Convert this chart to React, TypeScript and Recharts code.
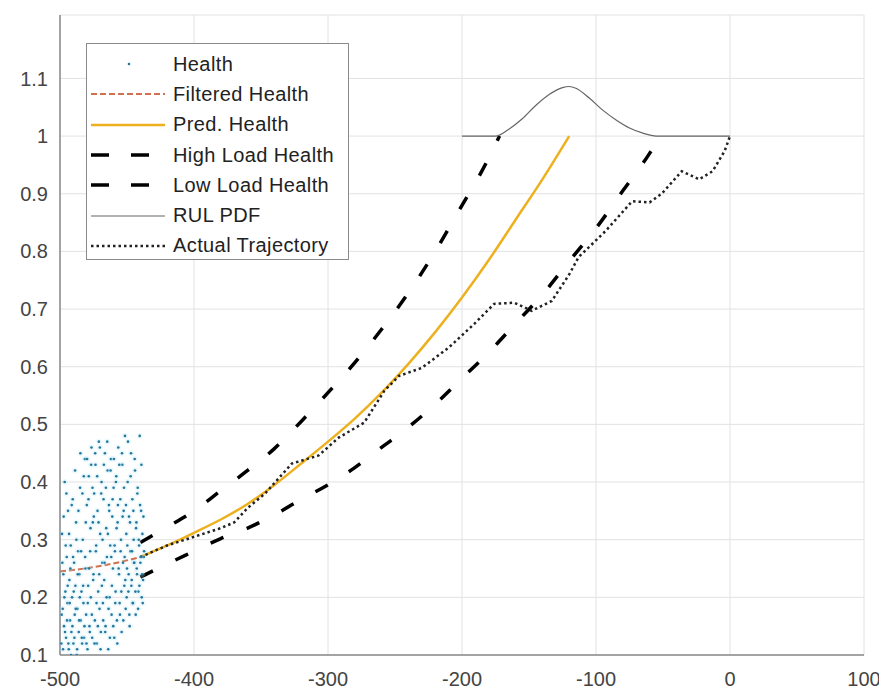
import React from 'react';
import { ComposedChart, Line, Scatter, XAxis, YAxis, CartesianGrid } from 'recharts';

const xTicks = [-500, -400, -300, -200, -100, 0, 100];
const yTicks = [0.1, 0.2, 0.3, 0.4, 0.5, 0.6, 0.7, 0.8, 0.9, 1, 1.1];

// noisy health measurements, two interleaved runs, one point every half time step
const healthStartA = -499;
const healthStartB = -498.75;
const healthStep = 0.5;
const healthYA = [
  0.12, 0.31, 0.18, 0.24, 0.15, 0.40, 0.21, 0.13, 0.27, 0.19, 0.35, 0.11, 0.23, 0.16, 0.29, 0.14,
  0.20, 0.37, 0.12, 0.26, 0.17, 0.22, 0.33, 0.10, 0.18, 0.28, 0.14, 0.24, 0.39, 0.16, 0.21, 0.12,
  0.30, 0.19, 0.13, 0.44, 0.25, 0.17, 0.36, 0.11, 0.22, 0.41, 0.15, 0.28, 0.20, 0.46, 0.13, 0.33,
  0.24, 0.38, 0.16, 0.43, 0.29, 0.12, 0.35, 0.21, 0.47, 0.18, 0.31, 0.14, 0.40, 0.26, 0.19, 0.37,
  0.23, 0.45, 0.15, 0.32, 0.27, 0.42, 0.11, 0.36, 0.20, 0.29, 0.44, 0.17, 0.34, 0.25, 0.39, 0.13,
  0.28, 0.21, 0.41, 0.16, 0.33, 0.46, 0.24, 0.19, 0.37, 0.30, 0.14, 0.43, 0.26, 0.35, 0.22, 0.48,
  0.18, 0.31, 0.25, 0.40, 0.21, 0.34, 0.15, 0.28, 0.45, 0.23, 0.37, 0.19, 0.30, 0.26, 0.42, 0.17,
  0.33, 0.24, 0.39, 0.21, 0.29, 0.48, 0.26, 0.35, 0.20, 0.31, 0.23, 0.27,
];
const healthYB = [
  0.17, 0.26, 0.11, 0.34, 0.20, 0.14, 0.29, 0.38, 0.16, 0.22, 0.12, 0.31, 0.19, 0.25, 0.10, 0.36,
  0.15, 0.27, 0.21, 0.13, 0.42, 0.18, 0.30, 0.11, 0.24, 0.35, 0.16, 0.20, 0.45, 0.28, 0.13, 0.38,
  0.22, 0.41, 0.15, 0.27, 0.33, 0.12, 0.44, 0.19, 0.37, 0.25, 0.14, 0.32, 0.43, 0.17, 0.39, 0.23,
  0.34, 0.12, 0.45, 0.28, 0.19, 0.41, 0.15, 0.33, 0.24, 0.46, 0.11, 0.38, 0.22, 0.30, 0.16, 0.43,
  0.26, 0.14, 0.39, 0.20, 0.47, 0.31, 0.18, 0.35, 0.13, 0.42, 0.27, 0.22, 0.37, 0.15, 0.44, 0.29,
  0.19, 0.40, 0.32, 0.12, 0.36, 0.25, 0.43, 0.17, 0.28, 0.21, 0.45, 0.34, 0.16, 0.39, 0.27, 0.23,
  0.36, 0.20, 0.29, 0.47, 0.24, 0.17, 0.33, 0.41, 0.22, 0.28, 0.19, 0.35, 0.26, 0.44, 0.21, 0.32,
  0.25, 0.38, 0.18, 0.30, 0.22, 0.36, 0.27, 0.43, 0.24, 0.19, 0.34, 0.28,
];

const filteredX = [-500, -488, -476, -464, -452, -440];
const filteredY = [0.245, 0.248, 0.252, 0.257, 0.263, 0.27];

const predX = [-440, -420, -400, -380, -360, -340, -320, -300, -280, -260, -240, -220, -200, -180, -160, -140, -120];
const predY = [0.27, 0.29, 0.312, 0.335, 0.362, 0.395, 0.432, 0.47, 0.51, 0.555, 0.605, 0.66, 0.72, 0.785, 0.855, 0.925, 1.0];

const highX = [-440, -420, -400, -380, -360, -340, -320, -300, -280, -260, -240, -220, -200, -185, -172];
const highY = [0.295, 0.322, 0.35, 0.385, 0.42, 0.458, 0.505, 0.555, 0.607, 0.665, 0.728, 0.8, 0.88, 0.94, 1.0];

const lowX = [-440, -420, -400, -380, -360, -340, -320, -300, -280, -260, -240, -220, -200, -180, -160, -140, -120, -100, -80, -60, -52];
const lowY = [0.235, 0.258, 0.28, 0.302, 0.32, 0.343, 0.37, 0.395, 0.425, 0.46, 0.495, 0.535, 0.58, 0.625, 0.675, 0.725, 0.783, 0.84, 0.905, 0.97, 1.0];

const rulX = [-200, -175, -165, -155, -145, -135, -125, -120, -115, -105, -95, -85, -75, -65, -55, 0];
const rulY = [1.0, 1.0, 1.012, 1.03, 1.053, 1.072, 1.084, 1.086, 1.083, 1.066, 1.045, 1.028, 1.014, 1.005, 1.0, 1.0];

const actualX = [-440, -420, -400, -380, -370, -360, -347, -327, -307, -292, -273, -258, -247, -230, -210, -191, -176, -161, -148, -133, -120, -113, -93, -73, -60, -51, -36, -23, -13, -4, 0];
const actualY = [0.27, 0.29, 0.305, 0.32, 0.33, 0.355, 0.38, 0.432, 0.446, 0.477, 0.503, 0.558, 0.584, 0.598, 0.633, 0.674, 0.709, 0.711, 0.697, 0.714, 0.76, 0.79, 0.835, 0.887, 0.885, 0.9, 0.939, 0.925, 0.939, 0.974, 1.0];

const zip = (xs: number[], ys: number[]) => xs.map((x, i) => ({ x, y: ys[i] }));

const healthData = [
  ...healthYA.map((y, i) => ({ x: healthStartA + i * healthStep, y })),
  ...healthYB.map((y, i) => ({ x: healthStartB + i * healthStep, y })),
];
const filteredData = zip(filteredX, filteredY);
const predData = zip(predX, predY);
const highData = zip(highX, highY);
const lowData = zip(lowX, lowY);
const rulData = zip(rulX, rulY);
const actualData = zip(actualX, actualY);

const FONT = '"Liberation Sans", Arial, sans-serif';
const BORDER = '#8a8a8a';
const HEALTH = '#23779f';

// MATLAB '.' marker, with a soft cyan halo like the source image
const Dot = (props: any) => (
  <g>
    <circle cx={props.cx} cy={props.cy} r={3} fill="#aee3f2" fillOpacity={0.25} />
    <circle cx={props.cx} cy={props.cy} r={1.3} fill={HEALTH} />
  </g>
);

const legendItems = [
  { label: 'Health', kind: 'dot' },
  { label: 'Filtered Health', color: '#d0704e', width: 2, dash: '6 3' },
  { label: 'Pred. Health', color: '#EDB120', width: 2.5 },
  { label: 'High Load Health', color: '#000', width: 3.5, dash: '18 22' },
  { label: 'Low Load Health', color: '#000', width: 3.5, dash: '18 22' },
  { label: 'RUL PDF', color: '#666', width: 1.2 },
  { label: 'Actual Trajectory', color: '#222', width: 2.5, dash: '2.5 3' },
];

const LegendBox = () => (
  <div
    style={{
      position: 'absolute',
      left: 78,
      top: 35,
      width: 263,
      height: 217,
      border: `1.5px solid ${BORDER}`,
      background: '#fff',
      fontFamily: FONT,
      fontSize: 20,
      color: '#222',
      paddingTop: 5,
      boxSizing: 'border-box',
    }}
  >
    {legendItems.map(item => (
      <div key={item.label} style={{ height: 30.3, display: 'flex', alignItems: 'center' }}>
        <svg width={86} height={20} style={{ flex: 'none' }}>
          {item.kind === 'dot' ? (
            <circle cx={42} cy={10} r={1.3} fill={HEALTH} />
          ) : (
            <line
              x1={4}
              x2={78}
              y1={10}
              y2={10}
              stroke={item.color}
              strokeWidth={item.width}
              strokeDasharray={item.dash}
            />
          )}
        </svg>
        <span style={{ letterSpacing: 0.4, whiteSpace: 'nowrap' }}>{item.label}</span>
      </div>
    ))}
  </div>
);

const tickStyle = { fontSize: 20, fill: '#444', fontFamily: FONT };

export default function App() {
  return (
    <div style={{ position: 'relative', width: 879, height: 683 }}>
      <ComposedChart width={879} height={683} margin={{ top: 7, right: 23, bottom: 0, left: 0 }}>
        <CartesianGrid stroke="#e2e2e2" strokeWidth={1} />
        <XAxis
          dataKey="x"
          type="number"
          domain={[-500, 100]}
          ticks={xTicks}
          interval={0}
          allowDataOverflow
          height={36}
          tickSize={0}
          tickMargin={17}
          tick={tickStyle}
          axisLine={{ stroke: BORDER, strokeWidth: 1.5 }}
        />
        <XAxis
          xAxisId="top"
          orientation="top"
          type="number"
          domain={[-500, 100]}
          height={0}
          tick={false}
          tickLine={false}
          axisLine={{ stroke: BORDER, strokeWidth: 1.5 }}
        />
        <YAxis
          dataKey="y"
          type="number"
          domain={[0.1, 1.21]}
          ticks={yTicks}
          interval={0}
          allowDataOverflow
          width={52}
          tickSize={0}
          tickMargin={12}
          tick={tickStyle}
          axisLine={{ stroke: BORDER, strokeWidth: 1.5 }}
        />
        <YAxis
          yAxisId="right"
          orientation="right"
          type="number"
          domain={[0.1, 1.21]}
          width={0}
          tick={false}
          tickLine={false}
          axisLine={{ stroke: BORDER, strokeWidth: 1.5 }}
        />
        <Scatter data={healthData} dataKey="y" shape={Dot} isAnimationActive={false} />
        <Line data={filteredData} dataKey="y" type="monotone" stroke="#d0704e" strokeWidth={2} strokeDasharray="6 3" dot={false} isAnimationActive={false} />
        <Line data={predData} dataKey="y" type="monotone" stroke="#EDB120" strokeWidth={2.5} dot={false} isAnimationActive={false} />
        <Line data={highData} dataKey="y" type="monotone" stroke="#000" strokeWidth={3.5} strokeDasharray="14 25" dot={false} isAnimationActive={false} />
        <Line data={lowData} dataKey="y" type="monotone" stroke="#000" strokeWidth={3.5} strokeDasharray="14 25" dot={false} isAnimationActive={false} />
        <Line data={rulData} dataKey="y" type="monotone" stroke="#666" strokeWidth={1.2} dot={false} isAnimationActive={false} />
        <Line data={actualData} dataKey="y" type="linear" stroke="#222" strokeWidth={2.5} strokeDasharray="2.5 3" dot={false} isAnimationActive={false} />
      </ComposedChart>
      <LegendBox />
    </div>
  );
}
